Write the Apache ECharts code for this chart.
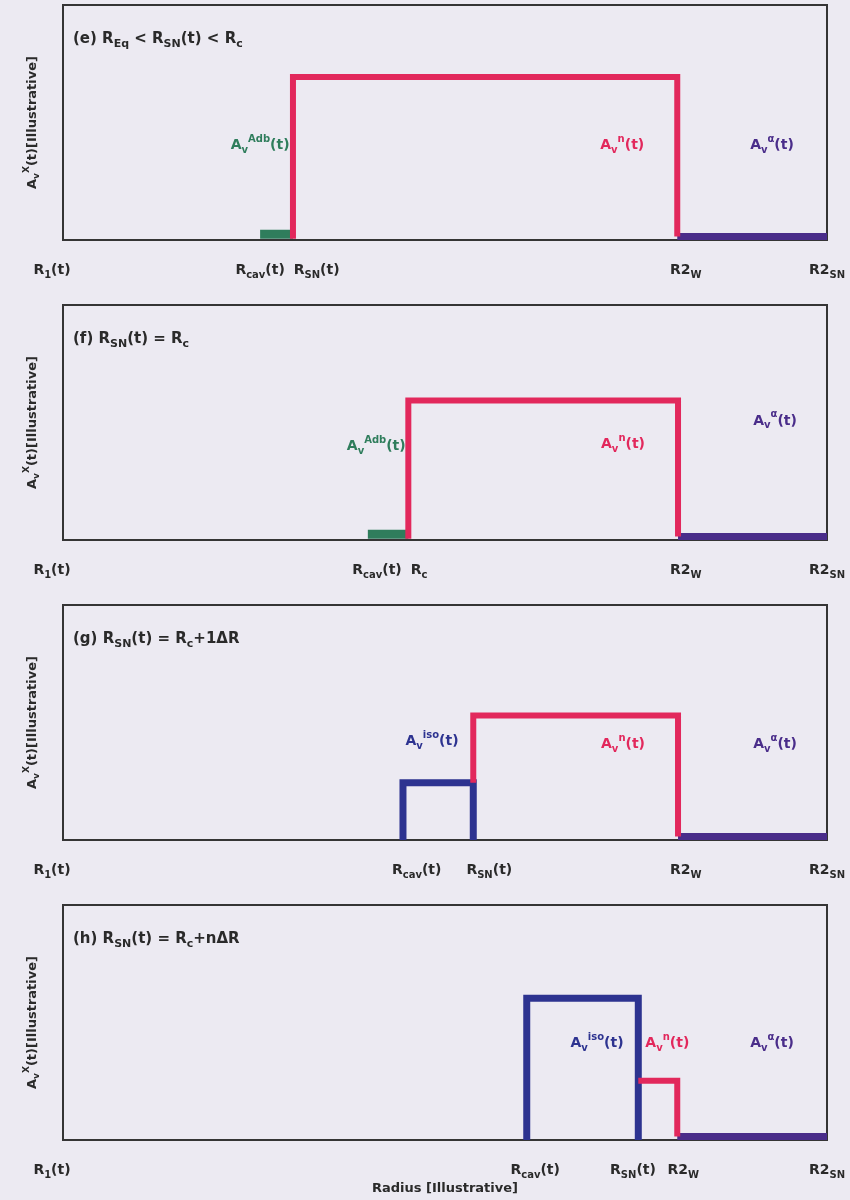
<!DOCTYPE html>
<html>
<head>
<meta charset="utf-8">
<script src="https://cdn.jsdelivr.net/npm/echarts@6/dist/echarts.min.js"></script>
<style>
html,body{margin:0;padding:0;background:#eceaf2;}
#c{width:850px;height:1200px;}
</style>
</head>
<body>
<div id="c"></div>
<script>
// ---------- DATA (axis units: radius 0..100, amplitude 0..100) ----------
const panelTitles = [
  '(e) R_{Eq} < R_{SN}(t) < R_{c}',
  '(f) R_{SN}(t) = R_{c}',
  '(g) R_{SN}(t) = R_{c}+1ΔR',
  '(h) R_{SN}(t) = R_{c}+nΔR'
];
// tick labels (positions + texts) for each panel
const tickPosE = [0, 25.8, 33.2, 81.5, 100];
const tickTxtE = ['R_{1}(t)', 'R_{cav}(t)', 'R_{SN}(t)', 'R2_{W}', 'R2_{SN}'];
const tickPosF = [0, 41.1, 46.6, 81.5, 100];
const tickTxtF = ['R_{1}(t)', 'R_{cav}(t)', 'R_{c}', 'R2_{W}', 'R2_{SN}'];
const tickPosG = [0, 46.3, 55.8, 81.5, 100];
const tickTxtG = ['R_{1}(t)', 'R_{cav}(t)', 'R_{SN}(t)', 'R2_{W}', 'R2_{SN}'];
const tickPosH = [0, 61.8, 74.6, 81.2, 100];
const tickTxtH = ['R_{1}(t)', 'R_{cav}(t)', 'R_{SN}(t)', 'R2_{W}', 'R2_{SN}'];

// step profiles
const adbE   = [[25.8, 2.5], [30.1, 2.5]];
const nE     = [[30.1, 0.5], [30.1, 69.4], [80.4, 69.4], [80.4, 1.5]];
const alphaE = [[80.4, 1.5], [100, 1.5]];

const adbF   = [[39.9, 2.5], [45.2, 2.5]];
const nF     = [[45.2, 0.5], [45.2, 59.4], [80.5, 59.4], [80.5, 1.5]];
const alphaF = [[80.5, 1.5], [100, 1.5]];

const isoG   = [[44.5, 0], [44.5, 24.4], [53.7, 24.4], [53.7, 0]];
const nG     = [[53.7, 24.4], [53.7, 53.0], [80.5, 53.0], [80.5, 1.5]];
const alphaG = [[80.5, 1.5], [100, 1.5]];

const isoH   = [[60.7, 0], [60.7, 60.3], [75.3, 60.3], [75.3, 0]];
const nH     = [[75.3, 25.2], [80.4, 25.2], [80.4, 1.5]];
const alphaH = [[80.4, 1.5], [100, 1.5]];

// in-plot annotations [x, y, text, series]
const annE = [[25.8, 40.4, 'A_{v}^{Adb}(t)', 'adb'], [73.2, 40.4, 'A_{v}^{n}(t)', 'n'], [92.8, 40.4, 'A_{v}^{α}(t)', 'alpha']];
const annF = [[41.0, 40.2, 'A_{v}^{Adb}(t)', 'adb'], [73.3, 41.0, 'A_{v}^{n}(t)', 'n'], [93.2, 50.9, 'A_{v}^{α}(t)', 'alpha']];
const annG = [[48.3, 42.3, 'A_{v}^{iso}(t)', 'iso'], [73.3, 41.0, 'A_{v}^{n}(t)', 'n'], [93.2, 41.0, 'A_{v}^{α}(t)', 'alpha']];
const annH = [[69.9, 41.5, 'A_{v}^{iso}(t)', 'iso'], [79.1, 41.5, 'A_{v}^{n}(t)', 'n'], [92.8, 41.5, 'A_{v}^{α}(t)', 'alpha']];

const yName = 'A_{v}^{X}(t)[Illustrative]';
const xName = 'Radius [Illustrative]';

// ---------- STYLE ----------
const FONT = 'DejaVu Sans';
const TXT = '#2a2a2a';
const COL = { adb: '#2f7d5c', n: '#e2285c', alpha: '#4a2d8a', iso: '#2d3390' };
const TCOL = { adb: '#2f7d5c', n: '#e2285c', alpha: '#4a2d8a', iso: '#2d3390' };
const WID = { adb: 9, n: 6, alpha: 7, iso: 7 };

function richStyles(size, color) {
  const s = Math.round(size * 0.7);
  const base = { fontFamily: FONT, fontWeight: 'bold', textBorderWidth: 0, textShadowBlur: 0 };
  if (color) base.color = color;
  return {
    b: Object.assign({ fontSize: size, padding: [4, 0, 0, 0], verticalAlign: 'top' }, base),
    s: Object.assign({ fontSize: s, padding: [Math.round(size * 0.75), 0, 0, 0], verticalAlign: 'top' }, base),
    p: Object.assign({ fontSize: s, padding: [0, 0, 0, 0], verticalAlign: 'top' }, base),
    gap: { width: 22 }
  };
}
function toRich(str) {
  let out = '', buf = '', i = 0;
  const flush = () => { if (buf) { out += '{b|' + buf + '}'; buf = ''; } };
  while (i < str.length) {
    const c = str[i];
    if ((c === '_' || c === '^') && str[i + 1] === '{') {
      flush();
      const j = str.indexOf('}', i);
      out += '{' + (c === '_' ? 's' : 'p') + '|' + str.slice(i + 2, j) + '}';
      i = j + 1;
    } else { buf += c; i++; }
  }
  flush();
  return out;
}

const panels = [
  { pos: tickPosE, txt: tickTxtE, lines: [['adb', adbE], ['n', nE], ['alpha', alphaE]], ann: annE },
  { pos: tickPosF, txt: tickTxtF, lines: [['adb', adbF], ['n', nF], ['alpha', alphaF]], ann: annF },
  { pos: tickPosG, txt: tickTxtG, lines: [['iso', isoG], ['alpha', alphaG], ['n', nG]], ann: annG },
  { pos: tickPosH, txt: tickTxtH, lines: [['n', nH], ['iso', isoH], ['alpha', alphaH]], ann: annH }
];

const grids = [], xAxes = [], yAxes = [], series = [], titles = [];
panels.forEach((p, i) => {
  const top = 5 + 300 * i;
  grids.push({ left: 63, right: 23, top: top, height: 235, show: true,
    borderColor: '#353535', borderWidth: 2, backgroundColor: 'transparent' });
  xAxes.push({
    type: 'value', gridIndex: i, min: 0, max: 100,
    axisLine: { show: false }, axisTick: { show: false }, splitLine: { show: false },
    axisLabel: {
      customValues: p.pos, margin: 19, color: TXT, rich: richStyles(14),
      formatter: (v) => {
        const k = p.pos.indexOf(v);
        if (k < 0) return '';
        let r = toRich(p.txt[k]);
        if (k === 0) r += '{gap|}';
        return r;
      }
    },
    name: i === 3 ? toRich(xName) : '',
    nameLocation: 'middle', nameGap: 38,
    nameTextStyle: { color: TXT, rich: richStyles(13) }
  });
  yAxes.push({
    type: 'value', gridIndex: i, min: 0, max: 100,
    axisLine: { show: false }, axisTick: { show: false }, splitLine: { show: false },
    axisLabel: { show: false },
    name: toRich(yName), nameLocation: 'middle', nameGap: 22,
    nameTextStyle: { color: TXT, rich: richStyles(13) }
  });
  titles.push({
    text: toRich(panelTitles[i]), left: 68, top: top + 18,
    textStyle: { color: TXT, fontWeight: 'bold', rich: richStyles(15) }
  });
  p.lines.forEach(([key, data]) => {
    series.push({
      type: 'line', xAxisIndex: i, yAxisIndex: i, data: data,
      showSymbol: false, symbol: 'none', silent: true,
      lineStyle: { color: COL[key], width: WID[key], cap: 'butt', join: 'miter' },
      z: key === 'n' ? 4 : 3
    });
  });
  series.push({
    type: 'scatter', xAxisIndex: i, yAxisIndex: i, symbolSize: 0, silent: true,
    itemStyle: { opacity: 1 },
    data: p.ann.map(a => ({
      value: [a[0], a[1]], txt: a[2],
      itemStyle: { color: TCOL[a[3]], opacity: 1 },
      label: { color: TCOL[a[3]], rich: richStyles(14, TCOL[a[3]]) }
    })),
    label: {
      show: true, position: 'inside', textBorderWidth: 0, textBorderColor: 'transparent',
      formatter: (prm) => toRich(prm.data.txt),
      rich: richStyles(14)
    },
    emphasis: { disabled: true },
    z: 6
  });
});

const chart = echarts.init(document.getElementById('c'), null, { renderer: 'canvas' });
chart.setOption({
  backgroundColor: '#eceaf2',
  animation: false,
  title: titles,
  grid: grids,
  xAxis: xAxes,
  yAxis: yAxes,
  series: series
});
</script>
</body>
</html>
